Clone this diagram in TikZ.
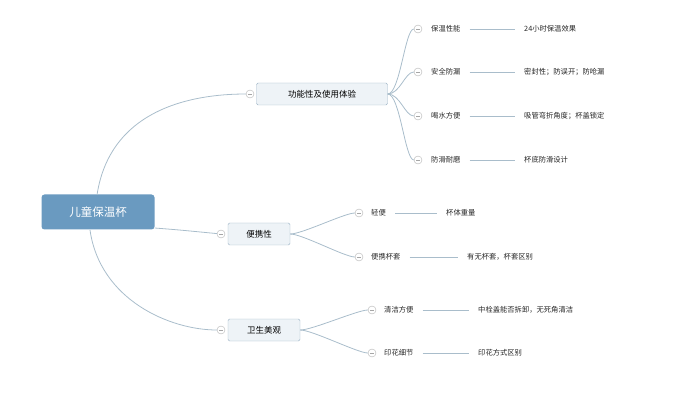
\documentclass[tikz,border=0pt]{standalone}
\usepackage{fontspec}
\setmainfont{Noto Sans CJK SC}
\usetikzlibrary{calc}
\definecolor{rootc}{HTML}{6A9AC0}
\definecolor{linec}{HTML}{A9BDCB}
\definecolor{boxc}{HTML}{EEF3F7}
\definecolor{boxd}{HTML}{9DB4C6}
\begin{document}
\begin{tikzpicture}[x=1pt,y=-1pt,
  root/.style={fill=rootc,rounded corners=3pt,minimum width=113pt,minimum height=35pt,text=white,font=\fontsize{11.5}{13}\selectfont},
  br/.style={fill=boxc,draw=boxd,rounded corners=1.5pt,minimum height=22pt,font=\fontsize{8.5}{10}\selectfont,inner xsep=6pt},
  lf/.style={anchor=west,inner sep=1pt,font=\fontsize{7.3}{9}\selectfont,text=black!85},
  col/.style={circle,draw=gray!60,fill=white,minimum size=8pt,inner sep=0pt,path picture={\draw[gray!70] ([xshift=-2pt]path picture bounding box.center)--([xshift=2pt]path picture bounding box.center);}},
  ln/.style={draw=linec,line width=0.8pt}]
\useasboundingbox (0,0) rectangle (680,414);
\node[root] (r) at (98,212) {儿童保温杯};
\node[br,minimum width=131pt] (b1) at (322,94) {功能性及使用体验};
\node[br,minimum width=62pt] (b2) at (259,234) {便携性};
\node[br,minimum width=72pt] (b3) at (264,330) {卫生美观};
\node[col] (c1) at (250,94) {};
\node[col] (c2) at (221,234) {};
\node[col] (c3) at (221,330) {};
\draw[ln] (97,195) .. controls (110,110) and (190,94) .. (c1);
\draw[ln] (r.east|-0,228) .. controls (180,230) .. (c2);
\draw[ln] (90,230) .. controls (100,300) and (170,330) .. (c3);
% branch 1
\foreach \i/\y/\a/\b in {1/29/保温性能/24小时保温效果,2/72/安全防漏/密封性；防误开；防呛漏,3/116/喝水方便/吸管弯折角度；杯盖锁定,4/160/防滑耐磨/杯底防滑设计}{
  \node[col] (k\i) at (418,\y) {};
  \node[lf] (t\i) at (430,\y) {\a};
  \node[lf] (d\i) at (523,\y) {\b};
  \draw[ln] (b1.east) .. controls (400,94) and (405,\y) .. (k\i);
  \draw[ln] ([xshift=8pt]t\i.east) -- ([xshift=-8pt]d\i.west);
}
% branch 2
\node[col] (k5) at (359,213) {}; \node[lf] (t5) at (370,213) {轻便}; \node[lf] (d5) at (445,213) {杯体重量};
\node[col] (k6) at (359,257) {}; \node[lf] (t6) at (370,257) {便携杯套}; \node[lf] (d6) at (466,257) {有无杯套，杯套区别};
% branch 3
\node[col] (k7) at (372,310) {}; \node[lf] (t7) at (383,310) {清洁方便}; \node[lf] (d7) at (477,310) {中栓盖能否拆卸，无死角清洁};
\node[col] (k8) at (372,353) {}; \node[lf] (t8) at (383,353) {印花细节}; \node[lf] (d8) at (477,353) {印花方式区别};
\foreach \k/\b in {5/b2,6/b2,7/b3,8/b3}{
  \draw[ln] (\b.east) .. controls ($(\b.east)+(12,0)$) and ($(k\k.west)+(-10,0)$) .. (k\k);
  \draw[ln] ([xshift=8pt]t\k.east) -- ([xshift=-8pt]d\k.west);
}
\end{tikzpicture}
\end{document}
